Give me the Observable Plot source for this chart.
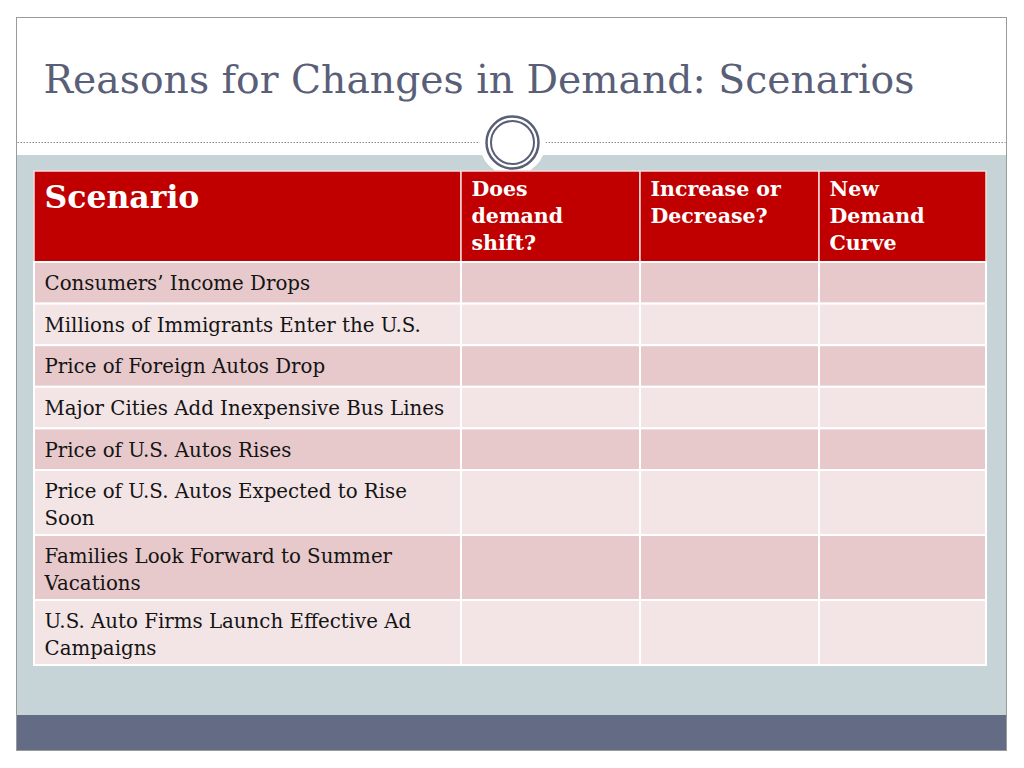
<!DOCTYPE html>
<html><head><meta charset="utf-8">
<script src="https://cdn.jsdelivr.net/npm/d3@7"></script>
<script src="https://cdn.jsdelivr.net/npm/@observablehq/plot@0.6"></script>
<style>html,body{margin:0;padding:0;background:#fff;overflow:hidden}</style>
</head><body><div id="chart"></div>
<script>
// ---- content ----
const title = "Reasons for Changes in Demand: Scenarios";
const headers = ["Scenario", "Does\ndemand\nshift?", "Increase or\nDecrease?", "New\nDemand\nCurve"];
const scenarios = [
  "Consumers’ Income Drops",
  "Millions of Immigrants Enter the U.S.",
  "Price of Foreign Autos Drop",
  "Major Cities Add Inexpensive Bus Lines",
  "Price of U.S. Autos Rises",
  "Price of U.S. Autos Expected to Rise\nSoon",
  "Families Look Forward to Summer\nVacations",
  "U.S. Auto Firms Launch Effective Ad\nCampaigns"
];
const answers = ["", "", ""]; // blank answer cells for each row

// ---- layout (pixels) ----
const W = 1024, H = 768;
const layout = {
  frame: {x1: 16.5, x2: 1006.5, y1: 17.5, y2: 750.5},
  bandTop: 155, barTop: 715,
  ruleY: 142, ornament: {x: 512, y: 142},
  colEdges: [34, 461, 640, 819, 986],
  headerTop: 171, headerH: 91,
  rowBase: 18.2, rowPerLine: 23.4,
  pad: 10
};
const C = {
  title: "#5a5f78", band: "#c6d4d8", bar: "#646b85", frame: "#9a9a9a",
  header: "#c00000", dark: "#e7c9cb", light: "#f3e4e5", text: "#141414"
};
const serif = "'DejaVu Serif', Georgia, serif";

// build table geometry
const cells = [], headerCells = [], bodyText = [];
const ce = layout.colEdges;
headers.forEach((h, j) => headerCells.push({
  x1: ce[j], x2: ce[j + 1], y1: layout.headerTop, y2: layout.headerTop + layout.headerH, label: h, col: j
}));
let y = layout.headerTop + layout.headerH;
scenarios.forEach((s, i) => {
  const lines = s.split("\n").length;
  const h = layout.rowBase + layout.rowPerLine * lines;
  [s, ...answers].forEach((a, j) => cells.push({
    x1: ce[j], x2: ce[j + 1], y1: y, y2: y + h, fill: i % 2 === 0 ? C.dark : C.light
  }));
  bodyText.push({x: ce[0] + layout.pad, y: y + 8.8, label: s});
  y += h;
});

const f = layout.frame;
const regions = [
  {x1: f.x1, x2: f.x2, y1: f.y1, y2: f.y2, fill: "#ffffff"},
  {x1: f.x1, x2: f.x2, y1: layout.bandTop, y2: layout.barTop, fill: C.band},
  {x1: f.x1, x2: f.x2, y1: layout.barTop, y2: f.y2, fill: C.bar}
];

const chart = Plot.plot({
  width: W, height: H, margin: 0,
  x: {domain: [0, W], range: [0, W], axis: null},
  y: {domain: [0, H], range: [0, H], axis: null},
  style: {background: "#ffffff"},
  marks: [
    Plot.rect(regions, {x1: "x1", x2: "x2", y1: "y1", y2: "y2", fill: d => d.fill}),
    Plot.rect([regions[0]], {x1: "x1", x2: "x2", y1: "y1", y2: "y2", fill: "none", stroke: C.frame, strokeWidth: 1}),
    Plot.ruleY([layout.ruleY], {x1: f.x1 + 1, x2: f.x2 - 1, stroke: "#8a8a8a", strokeWidth: 1, strokeDasharray: "1.5,1.5"}),
    Plot.dot([layout.ornament], {x: "x", y: "y", r: 33, fill: "#ffffff", stroke: "none"}),
    Plot.dot([layout.ornament], {x: "x", y: "y", r: 26, fill: "none", stroke: C.title, strokeWidth: 2.5}),
    Plot.dot([layout.ornament], {x: "x", y: "y", r: 21.5, fill: "none", stroke: C.title, strokeWidth: 2}),
    Plot.text([title], {x: () => 43, y: () => 92, text: d => d, textAnchor: "start", lineAnchor: "bottom",
      fontFamily: serif, fontSize: 39.3, fill: C.title}),
    Plot.rect(headerCells, {x1: "x1", x2: "x2", y1: "y1", y2: "y2", fill: C.header, stroke: "#f4dcdc", strokeWidth: 1.5}),
    Plot.rect(cells, {x1: "x1", x2: "x2", y1: "y1", y2: "y2", fill: d => d.fill, stroke: "#ffffff", strokeWidth: 2}),
    Plot.text(headerCells.filter(d => d.col === 0), {x: d => d.x1 + layout.pad, y: d => d.y1 + 13.7, text: "label",
      textAnchor: "start", lineAnchor: "top", fontFamily: serif, fontWeight: "bold", fontSize: 31.5, fill: "#ffffff"}),
    Plot.text(headerCells.filter(d => d.col > 0), {x: d => d.x1 + layout.pad, y: d => d.y1 + 5.7, text: "label",
      textAnchor: "start", lineAnchor: "top", lineHeight: 27 / 20.5, fontFamily: serif, fontWeight: "bold", fontSize: 20.5, fill: "#ffffff"}),
    Plot.text(bodyText, {x: "x", y: "y", text: "label", textAnchor: "start", lineAnchor: "top", lineHeight: 1.34,
      fontFamily: serif, fontSize: 19.8, fill: C.text})
  ]
});
document.getElementById("chart").append(chart);
</script>
</body></html>
